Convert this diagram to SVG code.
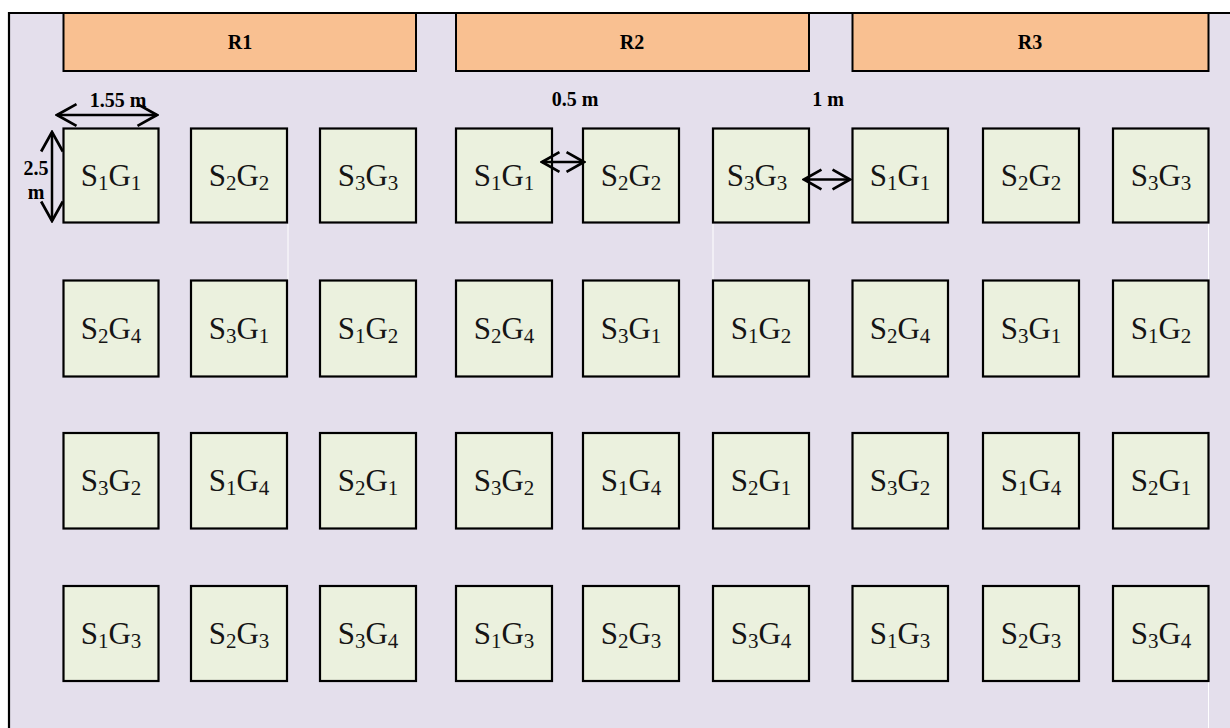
<svg xmlns="http://www.w3.org/2000/svg" width="1230" height="728" viewBox="0 0 1230 728">
<style>
.frame{fill:#E4DFEC}
.edge{stroke:#000;stroke-width:2.2;fill:none}
.rep rect{fill:#F9C091;stroke:#000;stroke-width:2}
.rep text{font-family:"Liberation Serif","Times New Roman",serif;font-weight:bold;font-size:20px;text-anchor:middle;fill:#000}
.plot rect{fill:#EBF1DE;stroke:#000;stroke-width:2.2}
.plot text{font-family:"Liberation Serif","Times New Roman",serif;font-size:31px;text-anchor:middle;fill:#151515}
.sub{font-size:21px}
.dim{font-family:"Liberation Serif","Times New Roman",serif;font-weight:bold;font-size:20px;text-anchor:middle;fill:#000}
.arr{stroke:#000;stroke-width:2.5;fill:none}
.ws{stroke:#fff;stroke-width:1}
</style>
<defs>
<marker id="hb" markerUnits="userSpaceOnUse" markerWidth="24" markerHeight="26" viewBox="-20 -12 22 24" refX="0" refY="0" orient="auto-start-reverse">
<path d="M-18,-10 L0,0 L-18,10" fill="none" stroke="#000" stroke-width="2.5"/>
</marker>
<marker id="hs" markerUnits="userSpaceOnUse" markerWidth="22" markerHeight="24" viewBox="-18 -11 20 22" refX="0" refY="0" orient="auto-start-reverse">
<path d="M-16,-9 L0,0 L-16,9" fill="none" stroke="#000" stroke-width="2.5"/>
</marker>
</defs>
<rect class="frame" x="9" y="13" width="1221" height="715"/>
<g id="white-seams">
<line class="ws" x1="288" y1="224" x2="288" y2="280"/>
<line class="ws" x1="713" y1="224" x2="713" y2="280"/>
<line class="ws" x1="1208.5" y1="224" x2="1208.5" y2="280"/>
<line class="ws" x1="1208.5" y1="682" x2="1208.5" y2="728"/>
</g>
<path class="edge" d="M9,728 V13 H1230"/>
<g id="R1" class="rep"><rect x="63.5" y="13" width="352.5" height="58"/><text x="240" y="49">R1</text></g>
<g id="R2" class="rep"><rect x="456" y="13" width="353" height="58"/><text x="632" y="49">R2</text></g>
<g id="R3" class="rep"><rect x="852.5" y="13" width="356" height="58"/><text x="1030" y="49">R3</text></g>
<g id="plots">
<g id="p1" class="plot"><rect x="63.5" y="128.5" width="95" height="94"/><text x="111" y="186">S<tspan class="sub" dy="4">1</tspan><tspan dy="-4">G</tspan><tspan class="sub" dy="4">1</tspan></text></g>
<g id="p2" class="plot"><rect x="191" y="128.5" width="96" height="94"/><text x="239" y="186">S<tspan class="sub" dy="4">2</tspan><tspan dy="-4">G</tspan><tspan class="sub" dy="4">2</tspan></text></g>
<g id="p3" class="plot"><rect x="320" y="128.5" width="96" height="94"/><text x="368" y="186">S<tspan class="sub" dy="4">3</tspan><tspan dy="-4">G</tspan><tspan class="sub" dy="4">3</tspan></text></g>
<g id="p4" class="plot"><rect x="456" y="128.5" width="96" height="94"/><text x="504" y="186">S<tspan class="sub" dy="4">1</tspan><tspan dy="-4">G</tspan><tspan class="sub" dy="4">1</tspan></text></g>
<g id="p5" class="plot"><rect x="583" y="128.5" width="96" height="94"/><text x="631" y="186">S<tspan class="sub" dy="4">2</tspan><tspan dy="-4">G</tspan><tspan class="sub" dy="4">2</tspan></text></g>
<g id="p6" class="plot"><rect x="713" y="128.5" width="96" height="94"/><text x="757" y="186">S<tspan class="sub" dy="4">3</tspan><tspan dy="-4">G</tspan><tspan class="sub" dy="4">3</tspan></text></g>
<g id="p7" class="plot"><rect x="852.5" y="128.5" width="95.5" height="94"/><text x="900" y="186">S<tspan class="sub" dy="4">1</tspan><tspan dy="-4">G</tspan><tspan class="sub" dy="4">1</tspan></text></g>
<g id="p8" class="plot"><rect x="983" y="128.5" width="96" height="94"/><text x="1031" y="186">S<tspan class="sub" dy="4">2</tspan><tspan dy="-4">G</tspan><tspan class="sub" dy="4">2</tspan></text></g>
<g id="p9" class="plot"><rect x="1113" y="128.5" width="95.5" height="94"/><text x="1161" y="186">S<tspan class="sub" dy="4">3</tspan><tspan dy="-4">G</tspan><tspan class="sub" dy="4">3</tspan></text></g>

<g id="p10" class="plot"><rect x="63.5" y="280.5" width="95" height="96"/><text x="111" y="339">S<tspan class="sub" dy="4">2</tspan><tspan dy="-4">G</tspan><tspan class="sub" dy="4">4</tspan></text></g>
<g id="p11" class="plot"><rect x="191" y="280.5" width="96" height="96"/><text x="239" y="339">S<tspan class="sub" dy="4">3</tspan><tspan dy="-4">G</tspan><tspan class="sub" dy="4">1</tspan></text></g>
<g id="p12" class="plot"><rect x="320" y="280.5" width="96" height="96"/><text x="368" y="339">S<tspan class="sub" dy="4">1</tspan><tspan dy="-4">G</tspan><tspan class="sub" dy="4">2</tspan></text></g>
<g id="p13" class="plot"><rect x="456" y="280.5" width="96" height="96"/><text x="504" y="339">S<tspan class="sub" dy="4">2</tspan><tspan dy="-4">G</tspan><tspan class="sub" dy="4">4</tspan></text></g>
<g id="p14" class="plot"><rect x="583" y="280.5" width="96" height="96"/><text x="631" y="339">S<tspan class="sub" dy="4">3</tspan><tspan dy="-4">G</tspan><tspan class="sub" dy="4">1</tspan></text></g>
<g id="p15" class="plot"><rect x="713" y="280.5" width="96" height="96"/><text x="761" y="339">S<tspan class="sub" dy="4">1</tspan><tspan dy="-4">G</tspan><tspan class="sub" dy="4">2</tspan></text></g>
<g id="p16" class="plot"><rect x="852.5" y="280.5" width="95.5" height="96"/><text x="900" y="339">S<tspan class="sub" dy="4">2</tspan><tspan dy="-4">G</tspan><tspan class="sub" dy="4">4</tspan></text></g>
<g id="p17" class="plot"><rect x="983" y="280.5" width="96" height="96"/><text x="1031" y="339">S<tspan class="sub" dy="4">3</tspan><tspan dy="-4">G</tspan><tspan class="sub" dy="4">1</tspan></text></g>
<g id="p18" class="plot"><rect x="1113" y="280.5" width="95.5" height="96"/><text x="1161" y="339">S<tspan class="sub" dy="4">1</tspan><tspan dy="-4">G</tspan><tspan class="sub" dy="4">2</tspan></text></g>

<g id="p19" class="plot"><rect x="63.5" y="433" width="95" height="95.5"/><text x="111" y="491">S<tspan class="sub" dy="4">3</tspan><tspan dy="-4">G</tspan><tspan class="sub" dy="4">2</tspan></text></g>
<g id="p20" class="plot"><rect x="191" y="433" width="96" height="95.5"/><text x="239" y="491">S<tspan class="sub" dy="4">1</tspan><tspan dy="-4">G</tspan><tspan class="sub" dy="4">4</tspan></text></g>
<g id="p21" class="plot"><rect x="320" y="433" width="96" height="95.5"/><text x="368" y="491">S<tspan class="sub" dy="4">2</tspan><tspan dy="-4">G</tspan><tspan class="sub" dy="4">1</tspan></text></g>
<g id="p22" class="plot"><rect x="456" y="433" width="96" height="95.5"/><text x="504" y="491">S<tspan class="sub" dy="4">3</tspan><tspan dy="-4">G</tspan><tspan class="sub" dy="4">2</tspan></text></g>
<g id="p23" class="plot"><rect x="583" y="433" width="96" height="95.5"/><text x="631" y="491">S<tspan class="sub" dy="4">1</tspan><tspan dy="-4">G</tspan><tspan class="sub" dy="4">4</tspan></text></g>
<g id="p24" class="plot"><rect x="713" y="433" width="96" height="95.5"/><text x="761" y="491">S<tspan class="sub" dy="4">2</tspan><tspan dy="-4">G</tspan><tspan class="sub" dy="4">1</tspan></text></g>
<g id="p25" class="plot"><rect x="852.5" y="433" width="95.5" height="95.5"/><text x="900" y="491">S<tspan class="sub" dy="4">3</tspan><tspan dy="-4">G</tspan><tspan class="sub" dy="4">2</tspan></text></g>
<g id="p26" class="plot"><rect x="983" y="433" width="96" height="95.5"/><text x="1031" y="491">S<tspan class="sub" dy="4">1</tspan><tspan dy="-4">G</tspan><tspan class="sub" dy="4">4</tspan></text></g>
<g id="p27" class="plot"><rect x="1113" y="433" width="95.5" height="95.5"/><text x="1161" y="491">S<tspan class="sub" dy="4">2</tspan><tspan dy="-4">G</tspan><tspan class="sub" dy="4">1</tspan></text></g>

<g id="p28" class="plot"><rect x="63.5" y="586" width="95" height="95"/><text x="111" y="644">S<tspan class="sub" dy="4">1</tspan><tspan dy="-4">G</tspan><tspan class="sub" dy="4">3</tspan></text></g>
<g id="p29" class="plot"><rect x="191" y="586" width="96" height="95"/><text x="239" y="644">S<tspan class="sub" dy="4">2</tspan><tspan dy="-4">G</tspan><tspan class="sub" dy="4">3</tspan></text></g>
<g id="p30" class="plot"><rect x="320" y="586" width="96" height="95"/><text x="368" y="644">S<tspan class="sub" dy="4">3</tspan><tspan dy="-4">G</tspan><tspan class="sub" dy="4">4</tspan></text></g>
<g id="p31" class="plot"><rect x="456" y="586" width="96" height="95"/><text x="504" y="644">S<tspan class="sub" dy="4">1</tspan><tspan dy="-4">G</tspan><tspan class="sub" dy="4">3</tspan></text></g>
<g id="p32" class="plot"><rect x="583" y="586" width="96" height="95"/><text x="631" y="644">S<tspan class="sub" dy="4">2</tspan><tspan dy="-4">G</tspan><tspan class="sub" dy="4">3</tspan></text></g>
<g id="p33" class="plot"><rect x="713" y="586" width="96" height="95"/><text x="761" y="644">S<tspan class="sub" dy="4">3</tspan><tspan dy="-4">G</tspan><tspan class="sub" dy="4">4</tspan></text></g>
<g id="p34" class="plot"><rect x="852.5" y="586" width="95.5" height="95"/><text x="900" y="644">S<tspan class="sub" dy="4">1</tspan><tspan dy="-4">G</tspan><tspan class="sub" dy="4">3</tspan></text></g>
<g id="p35" class="plot"><rect x="983" y="586" width="96" height="95"/><text x="1031" y="644">S<tspan class="sub" dy="4">2</tspan><tspan dy="-4">G</tspan><tspan class="sub" dy="4">3</tspan></text></g>
<g id="p36" class="plot"><rect x="1113" y="586" width="95.5" height="95"/><text x="1161" y="644">S<tspan class="sub" dy="4">3</tspan><tspan dy="-4">G</tspan><tspan class="sub" dy="4">4</tspan></text></g>
</g>
<g id="labels">
<text class="dim" x="118" y="107">1.55 m</text>
<text class="dim" x="575" y="106">0.5 m</text>
<text class="dim" x="828" y="106">1 m</text>
<text class="dim" x="36" y="175">2.5</text>
<text class="dim" x="36" y="199">m</text>
</g>
<g id="connectors">
<line class="arr" x1="57" y1="115" x2="157" y2="115" marker-start="url(#hb)" marker-end="url(#hb)"/>
<line class="arr" x1="52" y1="132" x2="52" y2="221" marker-start="url(#hb)" marker-end="url(#hb)"/>
<line class="arr" x1="542" y1="162" x2="584" y2="162" marker-start="url(#hs)" marker-end="url(#hs)"/>
<line class="arr" x1="804" y1="179.5" x2="850" y2="179.5" marker-start="url(#hs)" marker-end="url(#hs)"/>
</g>
</svg>
